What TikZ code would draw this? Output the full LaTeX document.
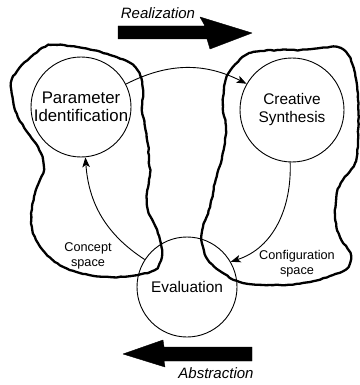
\documentclass[tikz,border=0pt]{standalone}
\usepackage{fontspec}
\setmainfont{Liberation Sans}
\usetikzlibrary{arrows.meta,decorations.pathmorphing}
\begin{document}
\begin{tikzpicture}[x=1pt,y=-1pt,
  stage/.style={circle,draw,line width=0.9pt,inner sep=0pt,align=center},
  blob/.style={line width=2.3pt,line join=round,
    decorate,decoration={random steps,segment length=3.5pt,amplitude=0.45pt}},
  flow/.style={line width=0.9pt,-{Stealth[length=10pt,width=7.5pt,inset=2.5pt]}},
  bigarrow/.style={fill=black,draw=black,line width=0.4pt,line join=round},
  spacelbl/.style={align=center,font=\fontsize{12.7}{15}\selectfont},
  dirlbl/.style={font=\fontsize{15}{18}\selectfont\itshape}]
\pgfmathsetseed{7}
\useasboundingbox (0,0) rectangle (359,385);
% concept space blob
\draw[blob] plot[smooth cycle,tension=0.55] coordinates {
  (50,45) (83,48) (110,55) (130,63) (140,75) (143,90) (142,107) (145,127)
  (148,145) (149,160) (150,173) (147,193) (148,210) (157,230) (162,250)
  (157,268) (138,275) (110,277) (80,273) (55,262) (38,243) (32,227) (32,207)
  (37,187) (43,173) (43,160) (38,147) (28,133) (18,117) (13,100) (11,83)
  (18,70) (31,57)};
% configuration space blob
\draw[blob] plot[smooth cycle,tension=0.55] coordinates {
  (233,67) (250,53) (280,50) (300,50) (320,48) (337,47) (348,55) (355,73)
  (358,100) (358,140) (355,163) (343,180) (337,193) (335,217) (340,237)
  (350,253) (348,267) (333,275) (310,282) (280,285) (243,283) (223,273)
  (208,260) (202,243) (203,227) (210,207) (215,183) (222,157) (226,130)
  (223,107) (225,83)};
% stages
\node[stage,minimum size=100pt,font=\fontsize{16.8}{18.5}\selectfont] (PI) at (81,107) {Parameter\\Identification};
\node[stage,minimum size=104pt,font=\fontsize{15.4}{18}\selectfont] (CS) at (292,110) {Creative\\Synthesis};
\node[stage,minimum size=100pt,font=\fontsize{15.4}{18}\selectfont] (EV) at (187,287) {Evaluation};
% space labels
\node[spacelbl] (cpt) at (88,256) {Concept\\space};
\node[spacelbl] (cfg) at (297,264) {Configuration\\space};
% flows
\draw[flow] (PI.27) to[bend left=27] (CS.150);
\draw[flow] (CS.-92) to[out=-88,in=18] (EV.30);
\draw[flow] (EV.147) to[out=147,in=-86] (PI.-85);
% big direction arrows
\draw[bigarrow] (118,26) -- (205,26) -- (200,17) -- (252,33) -- (210,49) -- (207,39) -- (118,39) -- cycle;
\node[dirlbl] (real) at (158,13) {Realization};
\draw[bigarrow] (252,347) -- (164,347) -- (163,340) -- (123,354) -- (165,367) -- (164,361) -- (252,361) -- cycle;
\node[dirlbl] (abst) at (216,373) {Abstraction};
\end{tikzpicture}
\end{document}
